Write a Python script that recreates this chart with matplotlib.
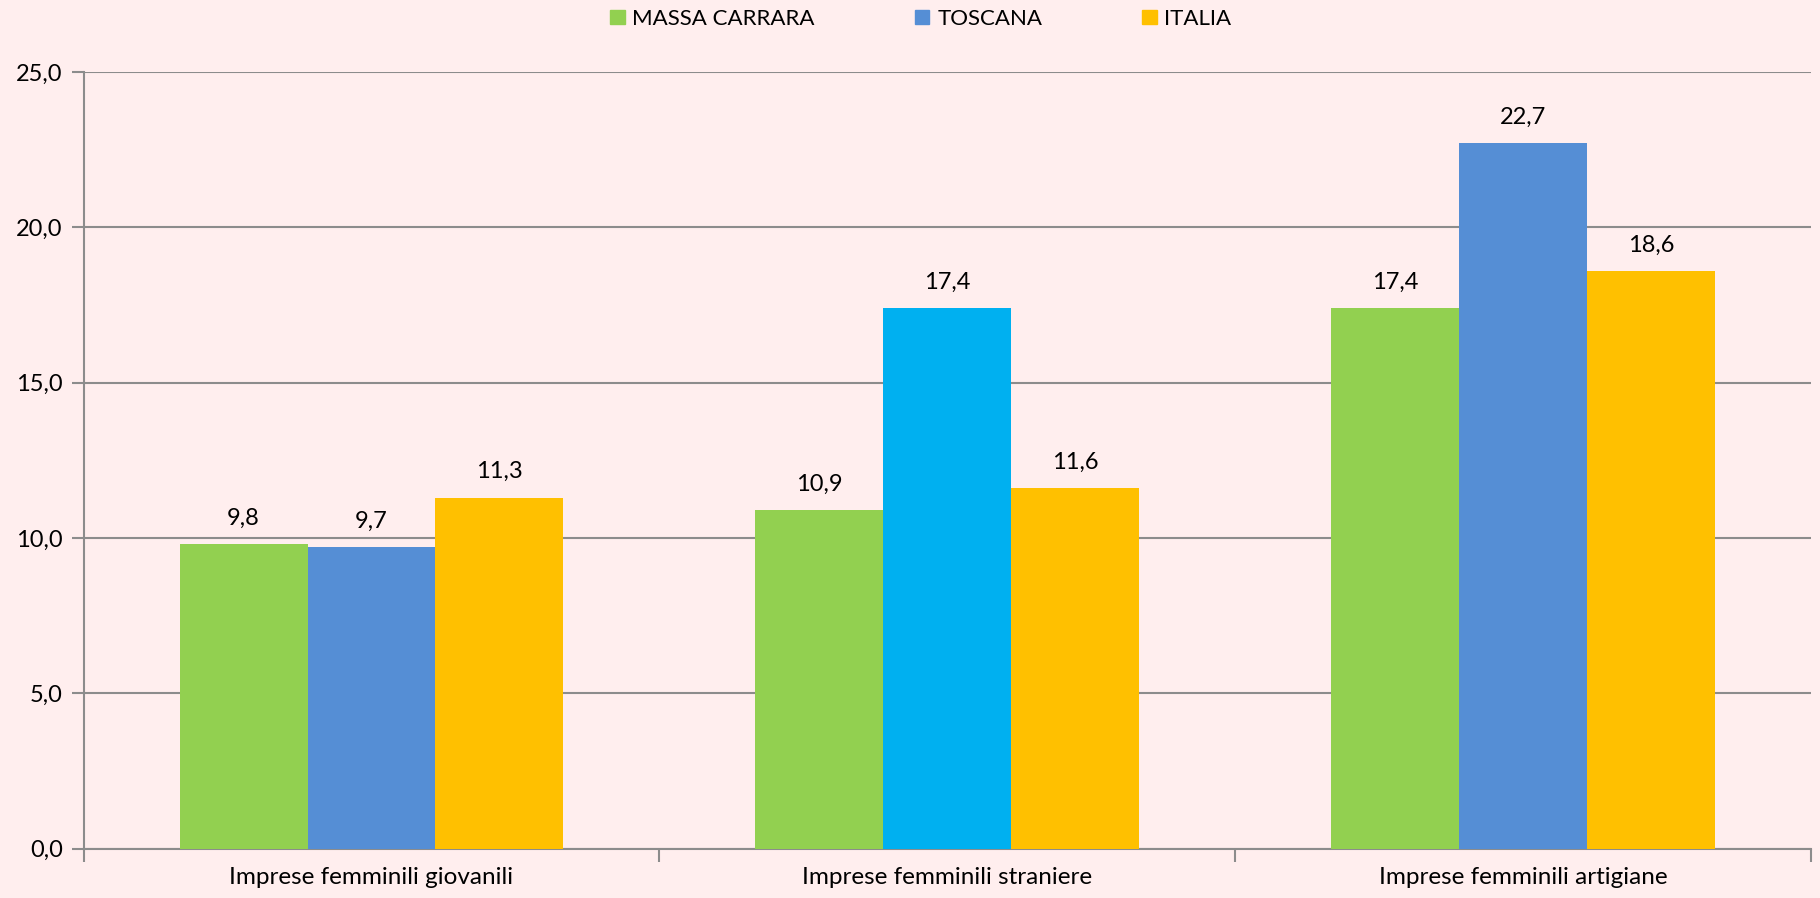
import matplotlib.pyplot as plt
import numpy as np
from matplotlib.patches import Patch
from matplotlib.ticker import FuncFormatter, MultipleLocator

plt.rcParams['font.family'] = ['Lato', 'DejaVu Sans']

categories = ['Imprese femminili giovanili', 'Imprese femminili straniere', 'Imprese femminili artigiane']
series = ['MASSA CARRARA', 'TOSCANA', 'ITALIA']
massa = [9.8, 10.9, 17.4]
toscana = [9.7, 17.4, 22.7]
italia = [11.3, 11.6, 18.6]

bg = '#FFEEEE'
green = '#92D050'
blue = '#558ED5'
cyan = '#00B0F0'
yellow = '#FFC000'
toscana_colors = [blue, cyan, blue]

fig = plt.figure(figsize=(18.2, 8.98), dpi=100, facecolor=bg)
ax = fig.add_axes([0.0459, 0.0551, 0.9491, 0.8647])
ax.set_facecolor(bg)

x = np.arange(len(categories))
w = 0.222
b1 = ax.bar(x - w, massa, w, color=green, zorder=3)
b2 = ax.bar(x, toscana, w, color=toscana_colors, zorder=3)
b3 = ax.bar(x + w, italia, w, color=yellow, zorder=3)

def fmt(v):
    return f"{v:.1f}".replace('.', ',')

for bars, vals in [(b1, massa), (b2, toscana), (b3, italia)]:
    ax.bar_label(bars, labels=[fmt(v) for v in vals], padding=11, fontsize=17)

ax.set_xlim(-0.5, 2.5)
ax.set_ylim(0, 25)
ax.yaxis.set_major_locator(MultipleLocator(5))
ax.yaxis.set_major_formatter(FuncFormatter(lambda v, p: fmt(v)))
ax.grid(axis='y', color='#8C8C8C', linewidth=1.5, zorder=0)

ax.set_xticks(x)
ax.set_xticklabels(categories, fontsize=17.5)
ax.set_xticks([-0.5, 0.5, 1.5, 2.5], minor=True)
ax.tick_params(axis='x', which='major', length=0, pad=13)
ax.tick_params(axis='x', which='minor', length=9, width=1.5, color='#8C8C8C')
ax.tick_params(axis='y', length=9, width=1.5, color='#8C8C8C', labelsize=17, pad=6)

for s in ['top', 'right']:
    ax.spines[s].set_visible(False)
for s in ['left', 'bottom']:
    ax.spines[s].set_color('#8C8C8C')
    ax.spines[s].set_linewidth(1.5)

handles = [Patch(color=green), Patch(color=blue), Patch(color=yellow)]
fig.legend(handles, series, loc='center', bbox_to_anchor=(0.506, 0.979), ncol=3,
           frameon=False, fontsize=16, handlelength=0.65, handleheight=0.65,
           handletextpad=0.35, columnspacing=4.5)

fig.savefig('out.png', dpi=100, facecolor=bg)
